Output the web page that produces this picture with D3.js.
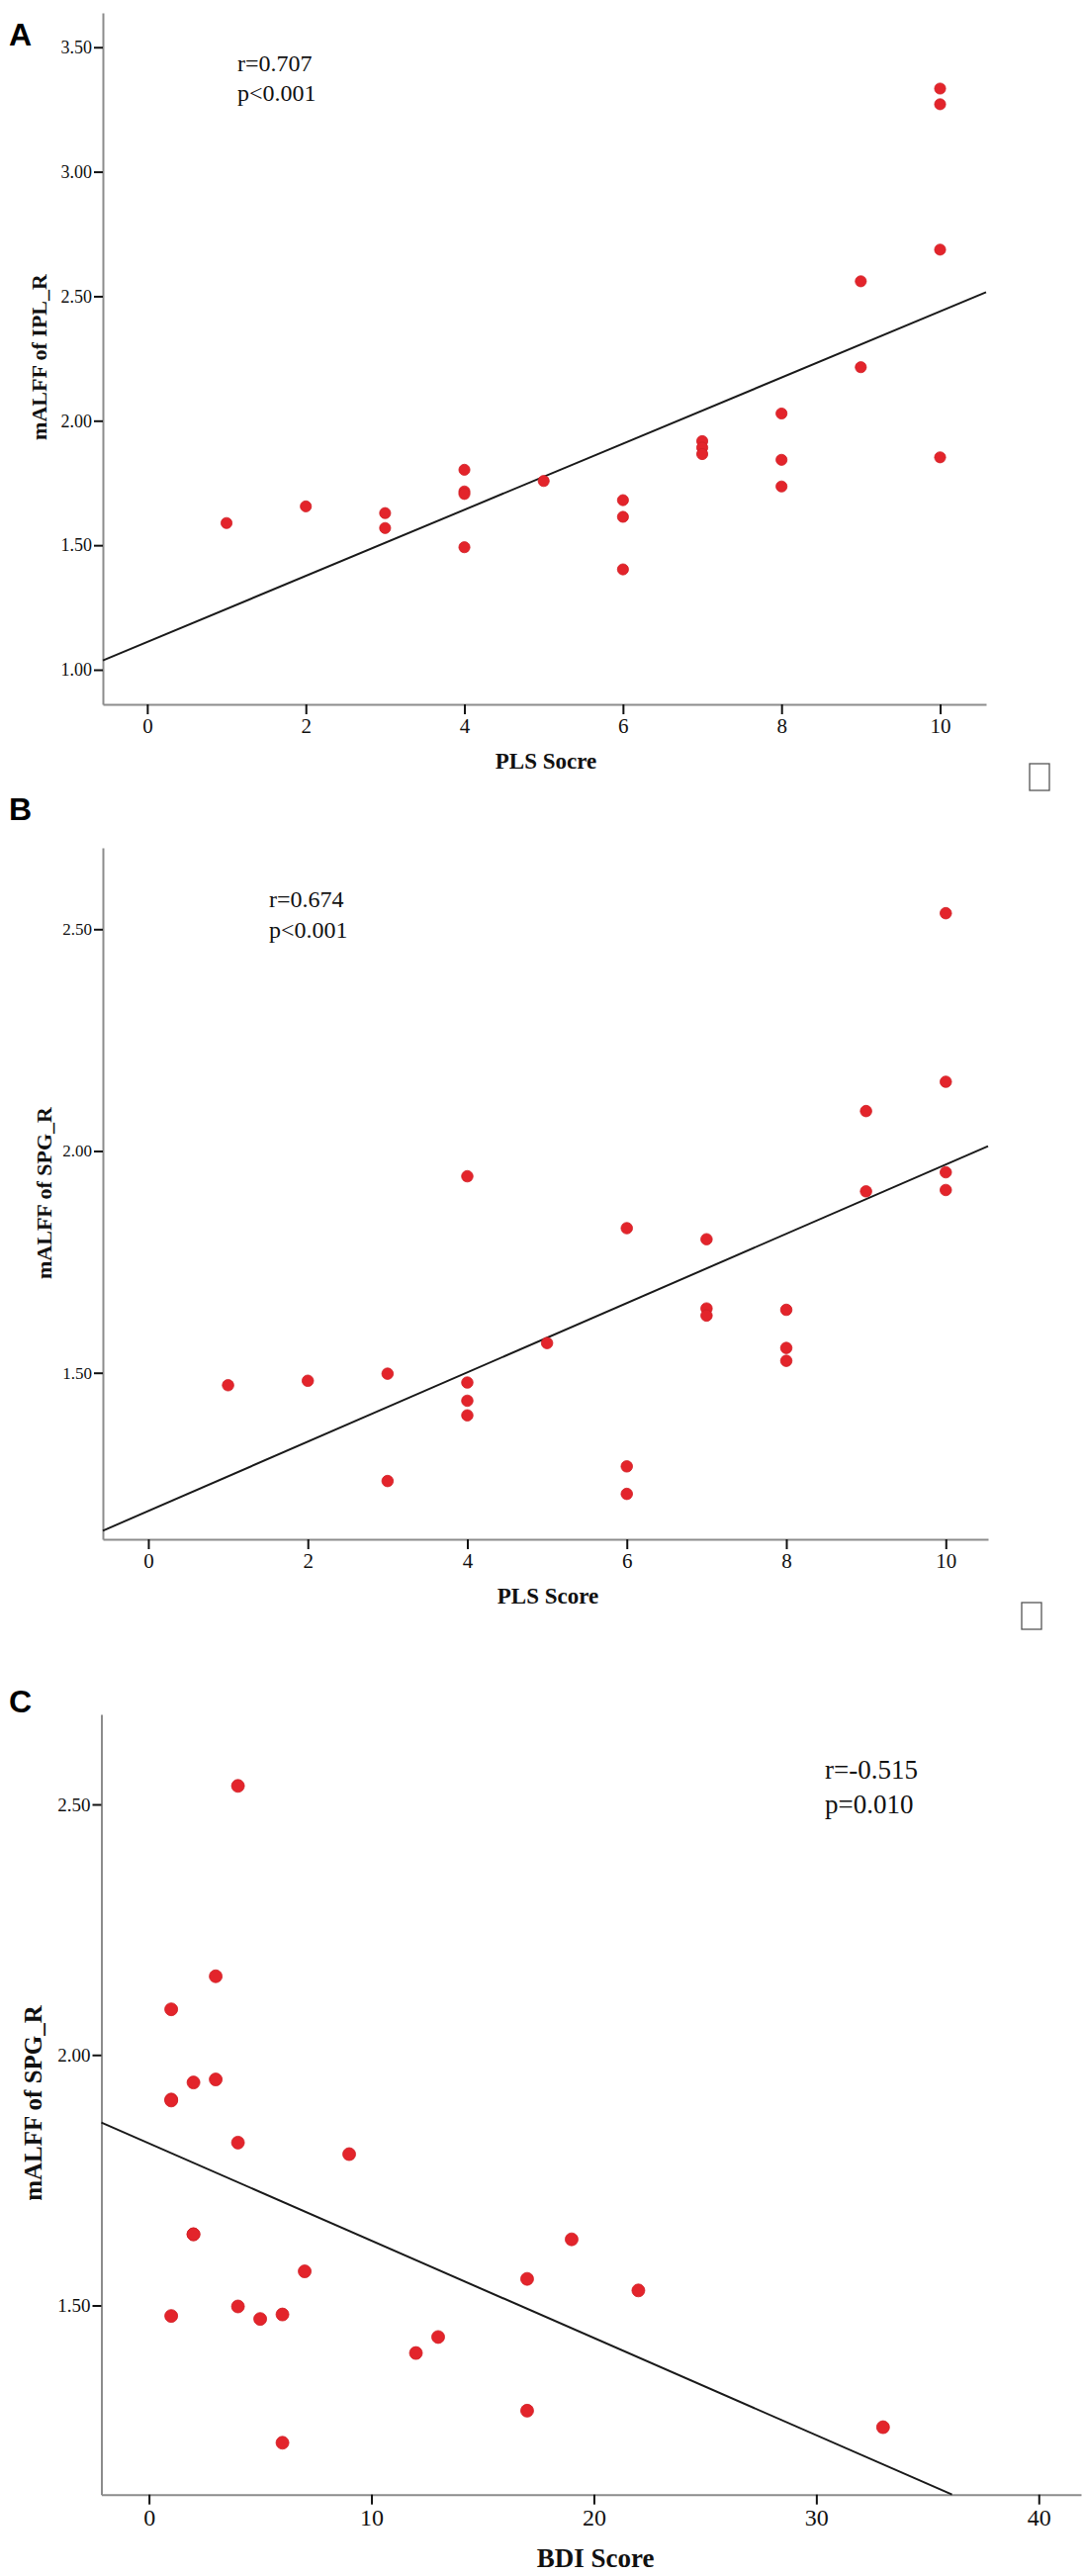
<!DOCTYPE html>
<html>
<head>
<meta charset="utf-8">
<script src="https://cdn.jsdelivr.net/npm/d3@7"></script>
<style>
  body { margin: 0; background: #fff; }
  svg { display: block; }
</style>
</head>
<body>
<svg id="chart"></svg>
<script>

// Panel A: PLS score vs mALFF of IPL_R
var plsA = [1, 2, 3, 3, 4, 4, 4, 4, 5, 6, 6, 6, 7, 7, 7, 8, 8, 8, 9, 9, 10, 10, 10, 10];
var iplA = [1.589, 1.656, 1.629, 1.569, 1.803, 1.716, 1.706, 1.492, 1.758, 1.681, 1.614, 1.403,
            1.918, 1.892, 1.866, 2.029, 1.843, 1.736, 2.560, 2.215, 3.334, 3.271, 2.687, 1.853];

// Panel B: PLS score vs mALFF of SPG_R
var plsB = [1, 2, 3, 3, 4, 4, 4, 4, 5, 6, 6, 6, 7, 7, 7, 8, 8, 8, 9, 9, 10, 10, 10, 10];
var spgB = [1.472, 1.482, 1.498, 1.256, 1.943, 1.478, 1.437, 1.404, 1.567, 1.826, 1.289, 1.227,
            1.801, 1.645, 1.629, 1.642, 1.556, 1.527, 2.090, 1.909, 2.536, 2.156, 1.952, 1.912];

// Panel C: BDI score vs mALFF of SPG_R
var bdiC = [4, 3, 1, 3, 2, 1, 1, 4, 9, 2, 2, 19, 7, 17, 22, 4, 1, 6, 5, 13, 12, 17, 33, 6];
var spgC = [2.537, 2.157, 2.091, 1.951, 1.945, 1.911, 1.909, 1.825, 1.802, 1.642, 1.642, 1.632,
            1.568, 1.553, 1.530, 1.498, 1.479, 1.482, 1.473, 1.437, 1.405, 1.290, 1.257, 1.226];

// fit lines (ends in data units)
var fitA = [[-0.56, 1.037], [10.58, 2.516]];
var fitB = [[-0.57, 1.144], [10.53, 2.011]];
var fitC = [[-2.14, 1.865], [36.1, 1.1225]];

// tick labels
var plsTicks = [0, 2, 4, 6, 8, 10];
var bdiTicks = [0, 10, 20, 30, 40];
var iplTicks = [1.0, 1.5, 2.0, 2.5, 3.0, 3.5];
var spgTicks = [1.5, 2.0, 2.5];

var statsA = ["r=0.707", "p<0.001"];
var statsB = ["r=0.674", "p<0.001"];
var statsC = ["r=-0.515", "p=0.010"];

var dimensions = { width: 1096, height: 2604 };

var svg = d3.select("#chart")
    .attr("width", dimensions.width)
    .attr("height", dimensions.height);

var serif = "'Liberation Serif', 'Times New Roman', serif";
var sans = "'Liberation Sans', Arial, sans-serif";

var panels = [
  {
    letter: "A", letterY: 46,
    xs: plsA, ys: iplA, fit: fitA,
    xDomain: [-0.56, 10.58], yDomain: [0.861, 3.638],
    left: 104, right: 997, top: 13, bottom: 712,
    xTicks: plsTicks, yTicks: iplTicks,
    xFmt: d3.format("d"),
    xTitle: "PLS Socre", yTitle: "mALFF of IPL_R",
    xTitleY: 777, xTitleX: 552, xTitleSize: 23,
    yTitleX: 47, yTitleY: 361, yTitleSize: 22,
    xTickSize: 21, yTickSize: 18, r: 5.6,
    stats: statsA, statsX: 240, statsY: 72, statsGap: 30, statsSize: 24,
    box: [1041, 772]
  },
  {
    letter: "B", letterY: 829,
    xs: plsB, ys: spgB, fit: fitB,
    xDomain: [-0.57, 10.53], yDomain: [1.1247, 2.6835],
    left: 104, right: 999, top: 857, bottom: 1556,
    xTicks: plsTicks, yTicks: spgTicks,
    xFmt: d3.format("d"),
    xTitle: "PLS Score", yTitle: "mALFF of SPG_R",
    xTitleY: 1621, xTitleX: 554, xTitleSize: 23,
    yTitleX: 52, yTitleY: 1206, yTitleSize: 22,
    xTickSize: 21, yTickSize: 17, r: 5.8,
    stats: statsB, statsX: 272, statsY: 917, statsGap: 31, statsSize: 24,
    box: [1033, 1620]
  },
  {
    letter: "C", letterY: 1731,
    xs: bdiC, ys: spgC, fit: fitC,
    xDomain: [-2.14, 41.9], yDomain: [1.1225, 2.6797],
    left: 102.5, right: 1093, top: 1733, bottom: 2521.7,
    xTicks: bdiTicks, yTicks: spgTicks,
    xFmt: d3.format("d"),
    xTitle: "BDI Score", yTitle: "mALFF of SPG_R",
    xTitleY: 2595, xTitleX: 602, xTitleSize: 27,
    yTitleX: 42, yTitleY: 2126, yTitleSize: 25,
    xTickSize: 24, yTickSize: 19, r: 6.5,
    stats: statsC, statsX: 834, statsY: 1798, statsGap: 35, statsSize: 27,
    box: null
  }
];

panels.forEach(function(p) {

  var x = d3.scaleLinear().domain(p.xDomain).range([p.left, p.right]);
  var y = d3.scaleLinear().domain(p.yDomain).range([p.bottom, p.top]);

  var g = svg.append("g");

  // x axis
  var gx = g.append("g")
    .attr("transform", "translate(0," + p.bottom + ")")
    .call(d3.axisBottom(x)
      .tickValues(p.xTicks)
      .tickFormat(p.xFmt)
      .tickSize(10)
      .tickSizeOuter(0)
      .tickPadding(4));

  // y axis
  var gy = g.append("g")
    .attr("transform", "translate(" + p.left + ",0)")
    .call(d3.axisLeft(y)
      .tickValues(p.yTicks)
      .tickFormat(d3.format(".2f"))
      .tickSize(9)
      .tickSizeOuter(0)
      .tickPadding(2));

  [gx, gy].forEach(function(ax) {
    ax.select(".domain").attr("stroke", "#8c8c8c").attr("stroke-width", 2);
    ax.selectAll(".tick line").attr("stroke", "#111").attr("stroke-width", 2);
    ax.selectAll(".tick text")
      .attr("fill", "#111")
      .style("font-family", serif);
  });
  gx.selectAll(".tick text").style("font-size", p.xTickSize + "px");
  gy.selectAll(".tick text").style("font-size", p.yTickSize + "px");

  // fit line
  var line = d3.line()
    .x(function(d) { return x(d[0]); })
    .y(function(d) { return y(d[1]); });

  g.append("path")
    .datum(p.fit)
    .attr("d", line)
    .attr("fill", "none")
    .attr("stroke", "#1a1a1a")
    .attr("stroke-width", 2);

  // dots
  g.append("g")
    .selectAll("circle")
    .data(p.xs.map(function(v, i) { return [v, p.ys[i]]; }))
    .join("circle")
      .attr("cx", function(d) { return x(d[0]); })
      .attr("cy", function(d) { return y(d[1]); })
      .attr("r", p.r)
      .attr("fill", "#e3242b")
      .attr("stroke", "#d01f26")
      .attr("stroke-width", 0.8);

  // r / p
  g.selectAll(".stat")
    .data(p.stats)
    .join("text")
      .attr("x", p.statsX)
      .attr("y", function(d, i) { return p.statsY + i * p.statsGap; })
      .style("font-family", serif)
      .style("font-size", p.statsSize + "px")
      .attr("fill", "#111")
      .text(function(d) { return d; });

  // axis titles
  g.append("text")
    .attr("x", p.xTitleX)
    .attr("y", p.xTitleY)
    .attr("text-anchor", "middle")
    .style("font-family", serif)
    .style("font-weight", "bold")
    .style("font-size", p.xTitleSize + "px")
    .attr("fill", "#111")
    .text(p.xTitle);

  g.append("text")
    .attr("transform", "translate(" + p.yTitleX + "," + p.yTitleY + ") rotate(-90)")
    .attr("text-anchor", "middle")
    .style("font-family", serif)
    .style("font-weight", "bold")
    .style("font-size", p.yTitleSize + "px")
    .attr("fill", "#111")
    .text(p.yTitle);

  // panel letter
  g.append("text")
    .attr("x", 9)
    .attr("y", p.letterY)
    .style("font-family", sans)
    .style("font-weight", "bold")
    .style("font-size", "32px")
    .attr("fill", "#000")
    .text(p.letter);

  // the small empty box next to the x title
  if (p.box) {
    g.append("rect")
      .attr("x", p.box[0])
      .attr("y", p.box[1])
      .attr("width", 20)
      .attr("height", 27)
      .attr("fill", "none")
      .attr("stroke", "#555")
      .attr("stroke-width", 1.3);
  }
});

</script>
</body>
</html>
